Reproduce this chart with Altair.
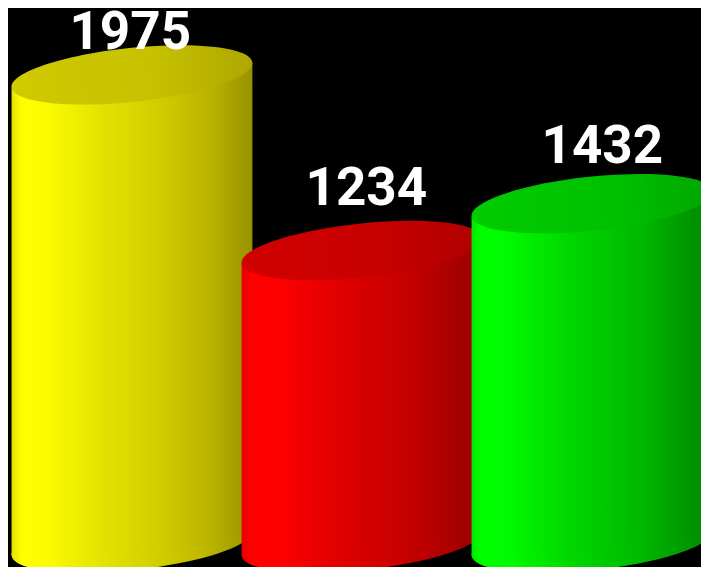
import altair as alt
import pandas as pd

# ---- data -------------------------------------------------------------
categories = ["Item 1", "Item 2", "Item 3"]
values = [1975, 1234, 1432]
slots = [0, 1, 2]

# ---- styles -----------------------------------------------------------
body_stops = {
    "Item 1": [(0, "#e2e200"), (0.04, "#ffff00"), (0.15, "#fbfb00"), (0.38, "#e2e200"),
               (0.62, "#d0cc00"), (0.82, "#bab400"), (1, "#989200")],
    "Item 2": [(0, "#e60000"), (0.04, "#ff0000"), (0.15, "#ff0000"), (0.4, "#e00000"),
               (0.7, "#c40000"), (1, "#960000")],
    "Item 3": [(0, "#00e600"), (0.04, "#00ff00"), (0.15, "#00fb00"), (0.4, "#00d800"),
               (0.7, "#00b800"), (1, "#008600")],
}
top_stops = {
    "Item 1": [(0, "#d0ca00"), (0.6, "#c6c000"), (1, "#aea700")],
    "Item 2": [(0, "#d20000"), (0.6, "#c60000"), (1, "#ae0000")],
    "Item 3": [(0, "#00cc00"), (0.6, "#00c000"), (1, "#00a600")],
}

ELLIPSE = ("M -1 0 C -1 -0.1232 -0.5523 -0.2231 0 -0.2231 "
           "C 0.5523 -0.2231 1 -0.1232 1 0 "
           "C 1 0.1232 0.5523 0.2231 0 0.2231 "
           "C -0.5523 0.2231 -1 0.1232 -1 0 Z")
SYM_SIZE = 242 * 242      # ellipse width in px, squared
ANGLE = 354               # 6 degree counter-clockwise tilt
HALF_W = 0.5235           # half body width in x units
TILT = 53.2               # tilt of the ellipse axis, in value units


def grad(stops):
    return {"gradient": "linear", "x1": 0, "y1": 0, "x2": 1, "y2": 0,
            "stops": [{"offset": o, "color": c} for o, c in stops]}


df = pd.DataFrame({"category": categories, "value": values, "slot": slots})
df["base"] = 0

rows = []
for c, v, s in zip(categories, values, slots):
    for side in (-1, 1):
        rows.append({"category": c, "xpos": s + side * HALF_W,
                     "ytop": v + side * TILT, "ybot": 0 + side * TILT})
body_df = pd.DataFrame(rows)

xs = alt.Scale(domain=[-0.539, 2.474], nice=False, zero=False)
ys = alt.Scale(domain=[-101, 2257], nice=False, zero=False)
txs = alt.Scale(domain=[-0.518, 2.418], nice=False, zero=False)
tys = alt.Scale(domain=[-488, 2168], nice=False, zero=False)

layers = []
for c in categories:
    bottom = alt.Chart(df).transform_filter(alt.datum.category == c).mark_point(
        shape=ELLIPSE, size=SYM_SIZE, angle=ANGLE, filled=True,
        fill=grad(body_stops[c]), opacity=1, strokeWidth=0
    ).encode(x=alt.X("slot:Q", scale=xs, axis=None),
             y=alt.Y("base:Q", scale=ys, axis=None))
    body = alt.Chart(body_df).transform_filter(alt.datum.category == c).mark_area(
        fill=grad(body_stops[c]), opacity=1, strokeWidth=0
    ).encode(x=alt.X("xpos:Q", scale=xs, axis=None),
             y=alt.Y("ytop:Q", scale=ys, axis=None),
             y2="ybot:Q")
    top = alt.Chart(df).transform_filter(alt.datum.category == c).mark_point(
        shape=ELLIPSE, size=SYM_SIZE, angle=ANGLE, filled=True,
        fill=grad(top_stops[c]), opacity=1, strokeWidth=0
    ).encode(x=alt.X("slot:Q", scale=xs, axis=None),
             y=alt.Y("value:Q", scale=ys, axis=None))
    layers += [bottom, body, top]

labels = alt.Chart(df).mark_text(
    font="Roboto", fontSize=53, fontWeight="bold", color="white",
    align="center", baseline="alphabetic"
).encode(x=alt.X("slot:Q", scale=txs, axis=None),
         y=alt.Y("value:Q", scale=tys, axis=None),
         text=alt.Text("value:Q", format="d"))
layers.append(labels)

chart = alt.layer(*layers).resolve_scale(x="independent", y="independent").properties(
    width=693, height=559, padding=0,
    autosize=alt.AutoSizeParams(type="none"),
    background="black",
).configure_view(stroke=None)

chart.save("out.html", embed_options={"renderer": "svg", "actions": False})
